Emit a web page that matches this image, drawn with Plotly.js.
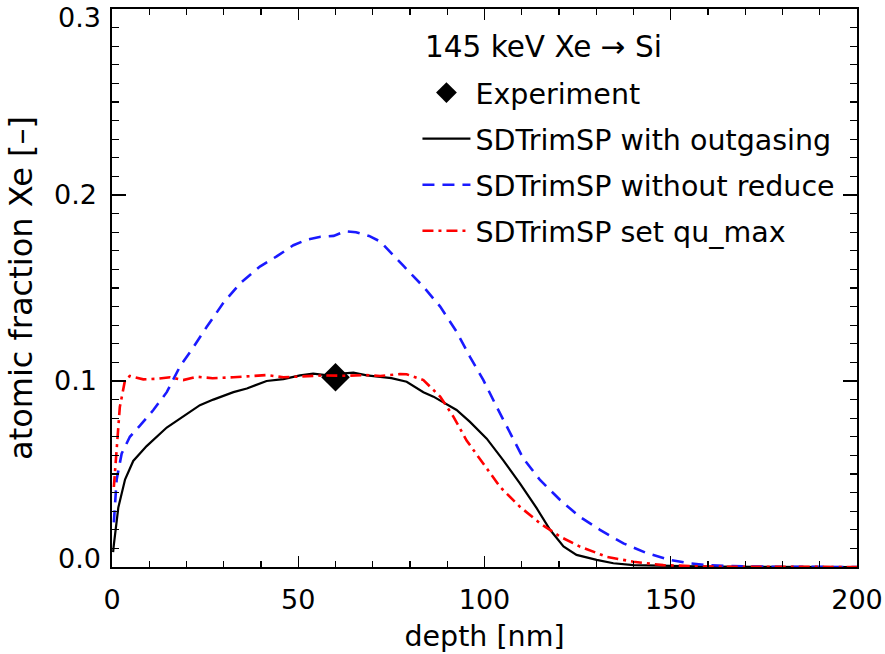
<!DOCTYPE html>
<html>
<head>
<meta charset="utf-8">
<script src="https://cdn.plot.ly/plotly-3.0.1.min.js"></script>
<style>html,body{margin:0;padding:0;background:#fff;}#chart{width:885px;height:654px;}</style>
</head>
<body>
<div id="chart"></div>
<script>
// Experiment
const expDepth = [60];
const expFrac = [0.102];

// SDTrimSP with outgasing (black solid)
const outDepth = [0.3, 0.5, 1.7, 3.5, 5.7, 9.3, 14.7, 19.1, 23.6, 27.2, 32.6, 36.2, 41.5, 46.0, 50.5, 54.0, 58.0, 61.5, 64.8, 68.4, 71.9, 75.0, 79.1, 83.6, 86.3, 92.5, 96.1, 100.6, 105.0, 109.5, 114.0, 117.6, 121.2, 124.7, 130.1, 134.6, 140, 150, 160, 200];
const outFrac  = [0.008, 0.012, 0.032, 0.047, 0.057, 0.065, 0.075, 0.081, 0.087, 0.090, 0.094, 0.096, 0.100, 0.101, 0.103, 0.104, 0.103, 0.104, 0.1045, 0.103, 0.102, 0.1015, 0.0996, 0.094, 0.0916, 0.0844, 0.078, 0.069, 0.0575, 0.045, 0.0316, 0.020, 0.011, 0.0065, 0.0038, 0.002, 0.001, 0.0004, 0.0002, 0.0];

// SDTrimSP without reduce (blue dashed)
const noRedDepth = [0.5, 1.25, 2.6, 4.8, 7.5, 11.1, 14.7, 18.3, 21.8, 25.4, 29.9, 34.4, 39.7, 44.2, 48.7, 52.3, 56.0, 59.5, 62.6, 65.5, 69.0, 72.0, 78.2, 83.6, 88.1, 92.5, 96.1, 99.7, 103.3, 106.8, 110.4, 114.9, 120.3, 125.6, 131.0, 137.3, 143.6, 149.8, 155, 160, 170, 180, 200];
const noRedFrac  = [0.024, 0.047, 0.061, 0.070, 0.076, 0.0844, 0.094, 0.108, 0.118, 0.129, 0.142, 0.1525, 0.1615, 0.167, 0.173, 0.176, 0.1775, 0.178, 0.1805, 0.180, 0.178, 0.175, 0.162, 0.1507, 0.140, 0.1265, 0.113, 0.1005, 0.086, 0.072, 0.0584, 0.0468, 0.036, 0.027, 0.020, 0.0127, 0.0074, 0.0038, 0.002, 0.001, 0.0003, 0.0001, 0.0];

// SDTrimSP set qu_max (red dash-dot)
const quDepth = [0.5, 1.25, 2.1, 3.5, 4.8, 8.4, 12.0, 15.6, 19.1, 22.7, 27.0, 32.6, 37.0, 41.5, 46.0, 52.0, 57.0, 63.0, 68.0, 72.0, 77.3, 79.1, 83.6, 88.1, 91.6, 95.2, 99.7, 104.2, 109.5, 114.9, 120.3, 125.6, 132.8, 140, 148, 160, 200];
const quFrac  = [0.043, 0.061, 0.086, 0.1005, 0.1027, 0.1009, 0.1012, 0.102, 0.1005, 0.1023, 0.1015, 0.102, 0.1025, 0.1032, 0.102, 0.1025, 0.103, 0.1028, 0.1032, 0.1027, 0.1037, 0.1036, 0.1005, 0.0916, 0.081, 0.068, 0.0557, 0.043, 0.0324, 0.0235, 0.0163, 0.011, 0.0055, 0.0028, 0.001, 0.0002, 0.0];

const xTicks = [0, 50, 100, 150, 200];
const yTicks = [0, 0.1, 0.2, 0.3];
const yTickLabels = ['0.0', '0.1', '0.2', '0.3'];

const legendTitle = '145 keV Xe \u2192 Si';
const names = ['Experiment', 'SDTrimSP with outgasing', 'SDTrimSP without reduce', 'SDTrimSP set qu_max'];
const xTitle = 'depth [nm]';
const yTitle = 'atomic fraction Xe [\u2013]';

const FONT = 'DejaVu Sans, sans-serif';
const TICKSIZE = 27;

const traces = [
  {x: expDepth, y: expFrac, name: names[0], mode: 'markers', type: 'scatter', legendgroup: 'a',
   marker: {symbol: 'diamond', size: 22, color: '#000'}},
  {x: outDepth, y: outFrac, name: names[1], mode: 'lines', type: 'scatter', legendgroup: 'b',
   line: {color: '#000', width: 2.2, dash: 'solid'}},
  {x: noRedDepth, y: noRedFrac, name: names[2], mode: 'lines', type: 'scatter', legendgroup: 'c',
   line: {color: '#1a1aff', width: 2.6, dash: '12px,8px'}},
  {x: quDepth, y: quFrac, name: names[3], mode: 'lines', type: 'scatter', legendgroup: 'd',
   line: {color: '#ff0000', width: 2.6, dash: '11px,5px,3px,5px'}}
];

const axisCommon = {
  showline: true, linecolor: '#000', linewidth: 1.6, mirror: 'allticks',
  ticks: 'inside', tickcolor: '#000', tickwidth: 1.2,
  showgrid: false, zeroline: false,
  tickfont: {family: FONT, size: TICKSIZE, color: '#000'}
};

// inner y tick labels through the axis; the two end labels are drawn flush with the axis ends
const yInnerText = yTickLabels.map((t, i) => (i === 0 || i === yTickLabels.length - 1) ? '' : t);

const annotations = [
  {xref: 'paper', yref: 'paper', x: 0, y: 0, xanchor: 'right', yanchor: 'bottom', xshift: -9, yshift: -9,
   text: yTickLabels[0], showarrow: false, font: {family: FONT, size: TICKSIZE, color: '#000'}},
  {xref: 'paper', yref: 'paper', x: 0, y: 1, xanchor: 'right', yanchor: 'top', xshift: -9, yshift: 9,
   text: yTickLabels[yTickLabels.length - 1], showarrow: false, font: {family: FONT, size: TICKSIZE, color: '#000'}},
  {xref: 'paper', yref: 'paper', x: 0.418, y: 0.932, xanchor: 'left', yanchor: 'middle',
   text: legendTitle, showarrow: false, font: {family: FONT, size: 29.5, color: '#000'}}
];

const layout = {
  width: 885, height: 654,
  paper_bgcolor: '#fff', plot_bgcolor: '#fff',
  margin: {l: 112, r: 28, t: 9, b: 87, autoexpand: false},
  font: {family: FONT, size: 27, color: '#000'},
  xaxis: Object.assign({}, axisCommon, {
    range: [0, 200], tickmode: 'array', tickvals: xTicks, ticklen: 11, ticklabelstandoff: 8,
    minor: {dtick: 10, tick0: 0, ticks: 'inside', ticklen: 6, tickcolor: '#000', tickwidth: 1.2},
    title: {text: xTitle, standoff: 12, font: {family: FONT, size: 28.5, color: '#000'}}
  }),
  yaxis: Object.assign({}, axisCommon, {
    range: [0, 0.3], tickmode: 'array', tickvals: yTicks, ticktext: yInnerText, ticklen: 14, ticklabelstandoff: 8,
    minor: {dtick: 0.01, tick0: 0, ticks: 'inside', ticklen: 7, tickcolor: '#000', tickwidth: 1.2},
    title: {text: yTitle, standoff: 12, font: {family: FONT, size: 32, color: '#000'}}
  }),
  annotations: annotations,
  showlegend: true,
  legend: {
    x: 0.41, xanchor: 'left', y: 0.895, yanchor: 'top',
    bgcolor: 'rgba(0,0,0,0)', borderwidth: 0,
    font: {family: FONT, size: 28.5, color: '#000'},
    traceorder: 'grouped', tracegroupgap: 6, itemwidth: 48
  }
};

Plotly.newPlot('chart', traces, layout, {displayModeBar: false, staticPlot: true});
</script>
</body>
</html>
